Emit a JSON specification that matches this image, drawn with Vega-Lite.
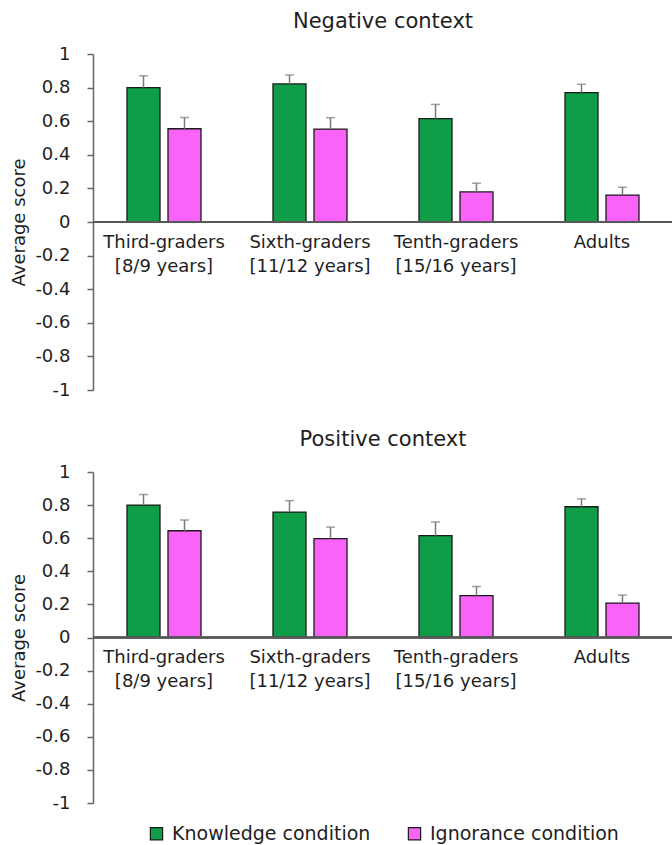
{
  "$schema": "https://vega.github.io/schema/vega-lite/v6.json",
  "padding": {"left": 10, "top": 11, "right": 0, "bottom": 2},
  "spacing": 30,
  "config": {
    "font": "DejaVu Sans",
    "view": {"stroke": null},
    "axis": {"grid": false, "labelFont": "DejaVu Sans", "titleFont": "DejaVu Sans", "labelColor": "#1e1e1e", "titleColor": "#1e1e1e"},
    "title": {"font": "DejaVu Sans", "fontSize": 21, "fontWeight": "normal", "color": "#1e1e1e"},
    "legend": {"layout": {"bottom": {"anchor": "middle"}}}
  },
  "datasets": {
    "scores": [
      {"context": "Negative", "group": "Third-graders [8/9 years]", "condition": "Knowledge condition", "value": 0.80, "hi": 0.87},
      {"context": "Negative", "group": "Third-graders [8/9 years]", "condition": "Ignorance condition", "value": 0.555, "hi": 0.622},
      {"context": "Negative", "group": "Sixth-graders [11/12 years]", "condition": "Knowledge condition", "value": 0.822, "hi": 0.875},
      {"context": "Negative", "group": "Sixth-graders [11/12 years]", "condition": "Ignorance condition", "value": 0.553, "hi": 0.621},
      {"context": "Negative", "group": "Tenth-graders [15/16 years]", "condition": "Knowledge condition", "value": 0.615, "hi": 0.70},
      {"context": "Negative", "group": "Tenth-graders [15/16 years]", "condition": "Ignorance condition", "value": 0.179, "hi": 0.231},
      {"context": "Negative", "group": "Adults", "condition": "Knowledge condition", "value": 0.77, "hi": 0.82},
      {"context": "Negative", "group": "Adults", "condition": "Ignorance condition", "value": 0.16, "hi": 0.207},
      {"context": "Positive", "group": "Third-graders [8/9 years]", "condition": "Knowledge condition", "value": 0.80, "hi": 0.864},
      {"context": "Positive", "group": "Third-graders [8/9 years]", "condition": "Ignorance condition", "value": 0.645, "hi": 0.71},
      {"context": "Positive", "group": "Sixth-graders [11/12 years]", "condition": "Knowledge condition", "value": 0.758, "hi": 0.827},
      {"context": "Positive", "group": "Sixth-graders [11/12 years]", "condition": "Ignorance condition", "value": 0.597, "hi": 0.667},
      {"context": "Positive", "group": "Tenth-graders [15/16 years]", "condition": "Knowledge condition", "value": 0.615, "hi": 0.698},
      {"context": "Positive", "group": "Tenth-graders [15/16 years]", "condition": "Ignorance condition", "value": 0.253, "hi": 0.308},
      {"context": "Positive", "group": "Adults", "condition": "Knowledge condition", "value": 0.79, "hi": 0.838},
      {"context": "Positive", "group": "Adults", "condition": "Ignorance condition", "value": 0.208, "hi": 0.256}
    ]
  },
  "vconcat": [
    {
      "title": {"text": "Negative context", "offset": 13},
      "width": 580,
      "height": 336,
      "data": {"name": "scores"},
      "transform": [{"filter": "datum.context === 'Negative'"}],
      "layer": [
        {
          "mark": {"type": "bar", "stroke": "#1a1a1a", "strokeWidth": 1.3},
          "encoding": {
            "x": {"field": "group", "type": "nominal", "sort": ["Third-graders [8/9 years]", "Sixth-graders [11/12 years]", "Tenth-graders [15/16 years]", "Adults"],
              "scale": {"paddingInner": 0.4932, "paddingOuter": 0.2329},
              "axis": {"orient": "bottom", "offset": -168, "domain": false, "ticks": false, "tickSize": 0, "labelPadding": 11, "labelAngle": 0, "labelFontSize": 18, "labelLineHeight": 24, "labelBaseline": "top", "labelLimit": 300, "title": null,
                "labelExpr": "indexof(datum.label, ' [') > 0 ? [substring(datum.label, 0, indexof(datum.label, ' [')), substring(datum.label, indexof(datum.label, ' [') + 1)] : datum.label"}},
            "xOffset": {"field": "condition", "type": "nominal", "sort": ["Knowledge condition", "Ignorance condition"], "scale": {"paddingInner": 0.195, "paddingOuter": 0}},
            "y": {"field": "value", "type": "quantitative", "scale": {"domain": [-1, 1], "nice": false},
              "axis": {"values": [-1, -0.8, -0.6, -0.4, -0.2, 0, 0.2, 0.4, 0.6, 0.8, 1], "tickCount": 11, "labelOverlap": false, "title": "Average score", "titleFontSize": 18, "titleFontWeight": "normal", "titlePadding": 6, "labelFontSize": 18, "labelPadding": 17, "tickSize": 6, "tickColor": "#666666", "tickWidth": 1.5, "domainColor": "#666666", "domainWidth": 1.5,
                "labelExpr": "'' + datum.value"}},
            "color": {"field": "condition", "type": "nominal", "sort": ["Knowledge condition", "Ignorance condition"],
              "scale": {"domain": ["Knowledge condition", "Ignorance condition"], "range": ["#0f9d48", "#f963f7"]},
              "legend": {"title": null, "orient": "bottom", "direction": "horizontal", "symbolType": "square", "symbolSize": 150, "symbolStrokeColor": "#1a1a1a", "symbolStrokeWidth": 1.2, "symbolOpacity": 1, "labelFontSize": 19, "labelLimit": 400, "labelColor": "#1e1e1e", "columnPadding": 34, "labelOffset": 6, "offset": 12}}
          }
        },
        {
          "mark": {"type": "rule", "color": "#7a7a7a", "strokeWidth": 1.5},
          "encoding": {
            "x": {"field": "group", "type": "nominal", "sort": ["Third-graders [8/9 years]", "Sixth-graders [11/12 years]", "Tenth-graders [15/16 years]", "Adults"]},
            "xOffset": {"field": "condition", "type": "nominal", "sort": ["Knowledge condition", "Ignorance condition"]},
            "y": {"field": "value", "type": "quantitative"},
            "y2": {"field": "hi"}
          }
        },
        {
          "mark": {"type": "tick", "color": "#7a7a7a", "size": 9, "thickness": 1.5},
          "encoding": {
            "x": {"field": "group", "type": "nominal", "sort": ["Third-graders [8/9 years]", "Sixth-graders [11/12 years]", "Tenth-graders [15/16 years]", "Adults"]},
            "xOffset": {"field": "condition", "type": "nominal", "sort": ["Knowledge condition", "Ignorance condition"]},
            "y": {"field": "hi", "type": "quantitative"}
          }
        },
        {
          "mark": {"type": "rule", "color": "#595959", "strokeWidth": 1.6},
          "encoding": {"y": {"datum": 0, "type": "quantitative"}}
        }
      ]
    },
    {
      "title": {"text": "Positive context", "offset": 13},
      "width": 580,
      "height": 331,
      "data": {"name": "scores"},
      "transform": [{"filter": "datum.context === 'Positive'"}],
      "layer": [
        {
          "mark": {"type": "bar", "stroke": "#1a1a1a", "strokeWidth": 1.3},
          "encoding": {
            "x": {"field": "group", "type": "nominal", "sort": ["Third-graders [8/9 years]", "Sixth-graders [11/12 years]", "Tenth-graders [15/16 years]", "Adults"],
              "scale": {"paddingInner": 0.4932, "paddingOuter": 0.2329},
              "axis": {"orient": "bottom", "offset": -165.5, "domain": false, "ticks": false, "tickSize": 0, "labelPadding": 11, "labelAngle": 0, "labelFontSize": 18, "labelLineHeight": 24, "labelBaseline": "top", "labelLimit": 300, "title": null,
                "labelExpr": "indexof(datum.label, ' [') > 0 ? [substring(datum.label, 0, indexof(datum.label, ' [')), substring(datum.label, indexof(datum.label, ' [') + 1)] : datum.label"}},
            "xOffset": {"field": "condition", "type": "nominal", "sort": ["Knowledge condition", "Ignorance condition"], "scale": {"paddingInner": 0.195, "paddingOuter": 0}},
            "y": {"field": "value", "type": "quantitative", "scale": {"domain": [-1, 1], "nice": false},
              "axis": {"values": [-1, -0.8, -0.6, -0.4, -0.2, 0, 0.2, 0.4, 0.6, 0.8, 1], "tickCount": 11, "labelOverlap": false, "title": "Average score", "titleFontSize": 18, "titleFontWeight": "normal", "titlePadding": 6, "labelFontSize": 18, "labelPadding": 17, "tickSize": 6, "tickColor": "#666666", "tickWidth": 1.5, "domainColor": "#666666", "domainWidth": 1.5,
                "labelExpr": "'' + datum.value"}},
            "color": {"field": "condition", "type": "nominal", "sort": ["Knowledge condition", "Ignorance condition"],
              "scale": {"domain": ["Knowledge condition", "Ignorance condition"], "range": ["#0f9d48", "#f963f7"]},
              "legend": {"title": null, "orient": "bottom", "direction": "horizontal", "symbolType": "square", "symbolSize": 150, "symbolStrokeColor": "#1a1a1a", "symbolStrokeWidth": 1.2, "symbolOpacity": 1, "labelFontSize": 19, "labelLimit": 400, "labelColor": "#1e1e1e", "columnPadding": 34, "labelOffset": 6, "offset": 12}}
          }
        },
        {
          "mark": {"type": "rule", "color": "#7a7a7a", "strokeWidth": 1.5},
          "encoding": {
            "x": {"field": "group", "type": "nominal", "sort": ["Third-graders [8/9 years]", "Sixth-graders [11/12 years]", "Tenth-graders [15/16 years]", "Adults"]},
            "xOffset": {"field": "condition", "type": "nominal", "sort": ["Knowledge condition", "Ignorance condition"]},
            "y": {"field": "value", "type": "quantitative"},
            "y2": {"field": "hi"}
          }
        },
        {
          "mark": {"type": "tick", "color": "#7a7a7a", "size": 9, "thickness": 1.5},
          "encoding": {
            "x": {"field": "group", "type": "nominal", "sort": ["Third-graders [8/9 years]", "Sixth-graders [11/12 years]", "Tenth-graders [15/16 years]", "Adults"]},
            "xOffset": {"field": "condition", "type": "nominal", "sort": ["Knowledge condition", "Ignorance condition"]},
            "y": {"field": "hi", "type": "quantitative"}
          }
        },
        {
          "mark": {"type": "rule", "color": "#595959", "strokeWidth": 1.6},
          "encoding": {"y": {"datum": 0, "type": "quantitative"}}
        }
      ]
    }
  ]
}
